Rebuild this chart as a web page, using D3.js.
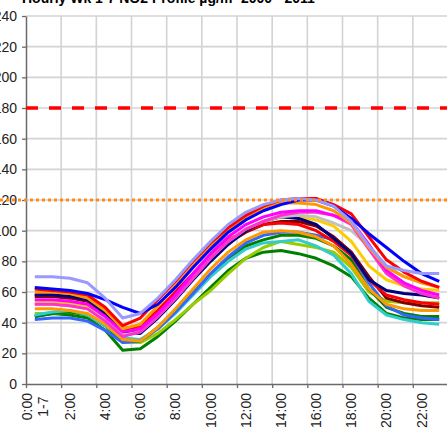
<!DOCTYPE html>
<html>
<head>
<meta charset="utf-8">
<script src="https://cdn.jsdelivr.net/npm/d3@7"></script>
<style>
  html, body { margin: 0; padding: 0; background: #fff; overflow: hidden; }
  svg { display: block; font-family: Arial, "Liberation Sans", sans-serif; }
</style>
</head>
<body>
<svg id="chart" width="447" height="439"></svg>
<script>
// Hourly NO2 profile, one line per series
const hours = d3.range(24);
const hourLabels = [["0:00", "1-7"], ["2:00"], ["4:00"], ["6:00"], ["8:00"], ["10:00"],
                    ["12:00"], ["14:00"], ["16:00"], ["18:00"], ["20:00"], ["22:00"]];
const labelHours = [0, 2, 4, 6, 8, 10, 12, 14, 16, 18, 20, 22];
const yTicks = [0, 20, 40, 60, 80, 100, 120, 140, 160, 180, 200, 220, 240];
const limitHourly = 180;   // red dashed line
const limitAnnual = 120;   // orange dotted line
const title = "Hourly Wk 1-7 NO2 Profile  µg/m³  2000 - 2011";

const seriesNames = ["s01", "s02", "s03", "s04", "s05", "s06", "s07", "s08", "s09",
                     "s10", "s11", "s12", "s13", "s14", "s15", "s16", "s17"];
const seriesColors = ["#008000", "#99CC00", "#008000", "#33CCCC", "#3366FF", "#FF9900",
                      "#800000", "#FF0000", "#FFCC00", "#000080", "#C0C0C0", "#FF33CC",
                      "#FF00FF", "#FF9900", "#FF0000", "#0000FF", "#9999FF"];
const s01 = [44, 46, 45, 43, 35, 22, 23, 31, 41, 52, 63, 74, 82, 86, 87, 85, 82, 77, 70, 56, 46, 43, 42, 42];
const s02 = [46, 46, 47, 45, 38, 27, 27, 33, 42, 52, 61, 72, 82, 89, 93, 91, 89, 86, 76, 60, 54, 53, 53, 53];
const s03 = [44, 46, 47, 45, 38, 28, 28, 37, 48, 60, 71, 82, 90, 94, 97, 97, 95, 90, 81, 62, 50, 46, 44, 44];
const s04 = [45, 47, 48, 45, 38, 30, 29, 36, 46, 58, 70, 80, 88, 92, 93, 94, 90, 84, 72, 54, 45, 42, 40, 39];
const s05 = [42, 43, 43, 41, 35, 27, 28, 36, 47, 59, 72, 83, 92, 97, 99, 99, 97, 94, 84, 66, 51, 45, 43, 42];
const s06 = [49, 49, 48, 46, 39, 29, 28, 37, 49, 62, 75, 86, 94, 99, 100, 99, 96, 90, 78, 62, 52, 49, 48, 48];
const s07 = [57, 57, 56, 54, 46, 35, 36, 45, 57, 70, 82, 92, 99, 104, 106, 106, 103, 96, 86, 70, 56, 53, 51, 50];
const s08 = [58, 58, 57, 55, 47, 36, 38, 48, 60, 72, 84, 94, 100, 104, 105, 104, 100, 93, 84, 68, 58, 55, 53, 52];
const s09 = [54, 54, 53, 51, 43, 33, 34, 44, 56, 69, 82, 93, 101, 106, 109, 109, 107, 103, 93, 77, 68, 64, 62, 61];
const s10 = [58, 58, 57, 55, 46, 34, 33, 43, 55, 68, 80, 91, 100, 106, 109, 108, 104, 95, 85, 68, 61, 59, 58, 56];
const s11 = [52, 52, 51, 49, 42, 32, 34, 44, 56, 69, 82, 93, 101, 106, 109, 110, 109, 105, 100, 90, 77, 70, 66, 63];
const s12 = [52, 52, 51, 49, 41, 31, 34, 44, 56, 69, 82, 93, 101, 106, 110, 112, 112, 110, 104, 88, 72, 64, 59, 56];
const s13 = [55, 55, 54, 52, 44, 34, 36, 46, 58, 72, 85, 96, 104, 109, 112, 113, 113, 110, 106, 91, 74, 66, 61, 58];
const s14 = [60, 60, 59, 56, 48, 36, 39, 51, 64, 77, 90, 100, 109, 115, 118, 118, 117, 113, 105, 89, 76, 70, 66, 63];
const s15 = [62, 61, 60, 58, 50, 38, 43, 55, 67, 80, 92, 102, 110, 116, 120, 121, 121, 117, 111, 96, 81, 73, 67, 63];
const s16 = [63, 62, 61, 59, 55, 50, 46, 52, 63, 76, 88, 99, 107, 113, 117, 120, 120, 116, 108, 98, 89, 80, 72, 67];
const s17 = [70, 70, 69, 66, 56, 43, 46, 56, 68, 81, 93, 104, 112, 117, 120, 121, 120, 116, 106, 90, 77, 74, 72, 72];
const seriesValues = [s01, s02, s03, s04, s05, s06, s07, s08, s09, s10, s11, s12, s13, s14, s15, s16, s17];

const svg = d3.select("#chart");
const plotLeft = 26, plotRight = 448, plotTop = 16, plotBottom = 384;

// categories sit between tick marks, so each hour occupies one slot
const x = d3.scaleLinear().domain([0, 24]).range([plotLeft, plotRight]);
const y = d3.scaleLinear().domain([0, 240]).range([plotBottom, plotTop]);

// title (runs off the top edge)
svg.append("text")
  .attr("x", 22).attr("y", 3)
  .attr("font-size", 14).attr("font-weight", "bold").attr("fill", "#000")
  .text(title);

// gridlines
const grid = svg.append("g").attr("stroke", "#d3d3d3").attr("stroke-width", 1.6);
grid.selectAll("line.h").data(yTicks.filter(d => d > 0)).join("line")
  .attr("class", "h")
  .attr("x1", plotLeft).attr("x2", 447)
  .attr("y1", d => y(d)).attr("y2", d => y(d));
grid.selectAll("line.v").data(d3.range(2, 24, 2)).join("line")
  .attr("class", "v")
  .attr("x1", d => x(d)).attr("x2", d => x(d))
  .attr("y1", plotTop).attr("y2", plotBottom);

// y axis
const yAxis = svg.append("g")
  .attr("transform", `translate(${plotLeft},0)`)
  .call(d3.axisLeft(y).tickValues(yTicks).tickSize(4).tickPadding(5).tickSizeOuter(0));
yAxis.select(".domain").attr("stroke", "#6a6a6a").attr("stroke-width", 1.5);
yAxis.selectAll(".tick line").attr("stroke", "#6a6a6a").attr("stroke-width", 1.3);
yAxis.selectAll(".tick text")
  .attr("font-size", 14).attr("fill", "#222")
  .attr("font-family", "Arial, 'Liberation Sans', sans-serif");

// x axis: ticks every two categories
const xAxis = svg.append("g")
  .attr("transform", `translate(0,${plotBottom})`)
  .call(d3.axisBottom(x).tickValues(d3.range(0, 24, 2)).tickSize(4).tickFormat("").tickSizeOuter(0));
xAxis.select(".domain").attr("stroke", "#6a6a6a").attr("stroke-width", 1.5);
xAxis.selectAll(".tick line").attr("stroke", "#6a6a6a").attr("stroke-width", 1.3);

// rotated category labels, centred on their hour slot
const lineGap = 16;
labelHours.forEach((h, i) => {
  const lines = hourLabels[i];
  const g = svg.append("g")
    .attr("transform", `translate(${x(h + 0.5)},393) rotate(-90)`);
  const texts = lines.map((s, k) => g.append("text")
    .attr("font-size", 14).attr("fill", "#222")
    .attr("dominant-baseline", "central")
    .attr("text-anchor", "middle")
    .attr("y", (k - (lines.length - 1) / 2) * lineGap)
    .text(s));
  const w = d3.max(texts, t => t.node().getComputedTextLength());
  texts.forEach(t => t.attr("x", -w / 2));
});

// reference limits
svg.append("line")
  .attr("x1", plotLeft).attr("x2", 447)
  .attr("y1", y(limitHourly)).attr("y2", y(limitHourly))
  .attr("stroke", "#ff0000").attr("stroke-width", 3.4)
  .attr("stroke-dasharray", "12,11");

// series lines
const line = d3.line()
  .x((d, i) => x(hours[i] + 0.5))
  .y(d => y(d));
svg.append("g").selectAll("path").data(seriesValues).join("path")
  .attr("d", line)
  .attr("fill", "none")
  .attr("stroke", (d, i) => seriesColors[i])
  .attr("stroke-width", 3)
  .attr("stroke-linejoin", "round")
  .attr("stroke-linecap", "butt")
  .attr("data-name", (d, i) => seriesNames[i]);

svg.append("line")
  .attr("x1", 0).attr("x2", 447)
  .attr("y1", y(limitAnnual)).attr("y2", y(limitAnnual))
  .attr("stroke", "#ff8c1a").attr("stroke-width", 3)
  .attr("stroke-dasharray", "3,3");
</script>
</body>
</html>
